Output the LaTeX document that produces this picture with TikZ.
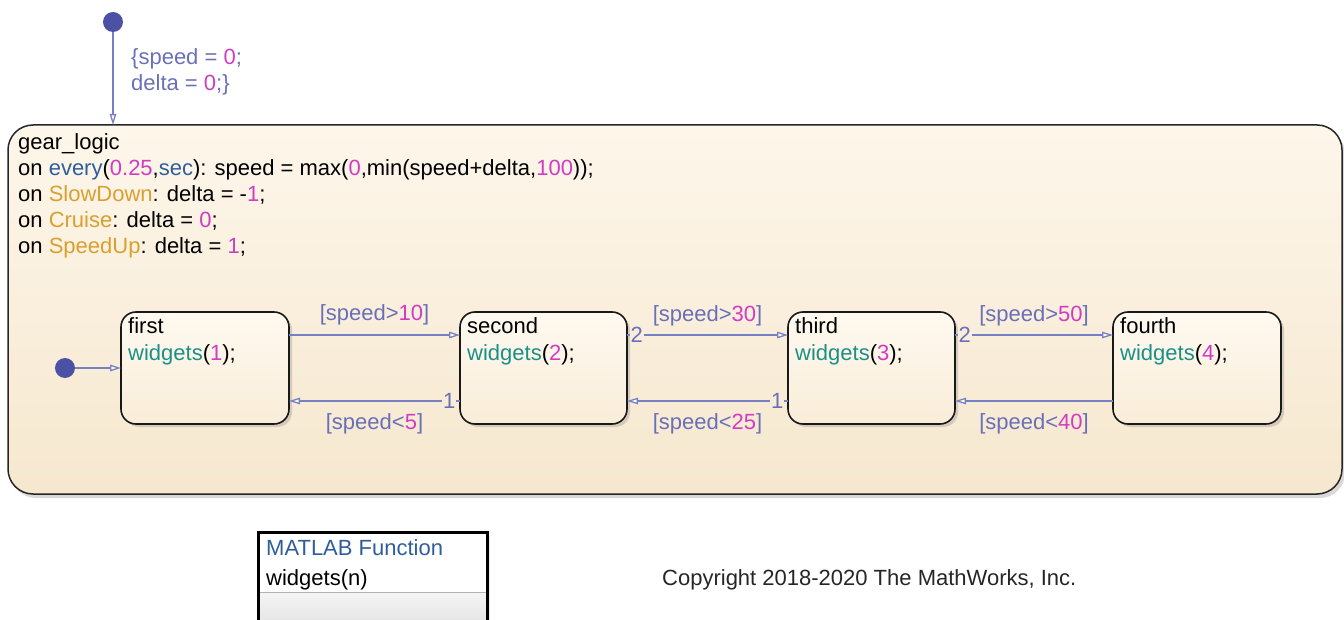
\documentclass[tikz,border=0pt]{standalone}
\usepackage{fontspec}
\setmainfont{Liberation Sans}
\usetikzlibrary{arrows.meta,shadows}

\definecolor{trnclr}{HTML}{7880C4}
\definecolor{labclr}{HTML}{6A70B8}
\definecolor{nmbclr}{HTML}{D23CC4}
\definecolor{kwdclr}{HTML}{2F5E9C}
\definecolor{evtclr}{HTML}{D9A030}
\definecolor{fcnclr}{HTML}{1C9088}
\definecolor{dotclr}{HTML}{4B52A6}
\definecolor{bgtop}{HTML}{FDF6EA}
\definecolor{bgbot}{HTML}{F6E8CF}
\definecolor{sttop}{HTML}{FEF9F0}
\definecolor{stbot}{HTML}{F9EDD8}

\newcommand{\nmb}[1]{\textcolor{nmbclr}{#1}}
\newcommand{\kwd}[1]{\textcolor{kwdclr}{#1}}
\newcommand{\evt}[1]{\textcolor{evtclr}{#1}}
\newcommand{\fcn}[1]{\textcolor{fcnclr}{#1}}

\tikzset{
  chart/.style={draw=black!85, line width=1.5pt, rounded corners=25pt, top color=bgtop, bottom color=bgbot,
    drop shadow={shadow xshift=3pt, shadow yshift=-4pt, opacity=0.3}, outer sep=0pt},
  gearbox/.style={draw=black!90, line width=1.6pt, rounded corners=15pt, top color=sttop, bottom color=stbot,
    minimum height=112pt, drop shadow={shadow xshift=3pt, shadow yshift=-3pt, opacity=0.3}, outer sep=0pt},
  txt/.style={inner sep=0pt, anchor=base west, font=\fontsize{22}{26}\selectfont},
  trans/.style={trnclr, line width=1.3pt, -{Triangle[length=11pt, width=6.5pt, fill=white]}},
  guard/.style={txt, anchor=base, text=labclr},
  order/.style={txt, inner sep=1pt, text=labclr},
  initdot/.style={circle, fill=dotclr, minimum size=20pt, inner sep=0pt, outer sep=0pt},
  fnbox/.style={fill=white, minimum width=229pt, minimum height=100pt, outer sep=0pt,
    drop shadow={shadow xshift=3pt, shadow yshift=-3pt, opacity=0.15}}
}

\begin{document}
\begin{tikzpicture}[x=1pt, y=-1pt]
  \path[use as bounding box, clip] (0,0) rectangle (1344,620);

  % outer state
  \node[chart, minimum width=1334pt, minimum height=369pt] (chart) at (675,309.5) {};
  \foreach \ln [count=\i from 0] in {
      {gear\_logic},
      {on \kwd{every}(\nmb{0.25},\kwd{sec}): speed = max(\nmb{0},min(speed+delta,\nmb{100}));},
      {on \evt{SlowDown}: delta = -\nmb{1};},
      {on \evt{Cruise}: delta = \nmb{0};},
      {on \evt{SpeedUp}: delta = \nmb{1};}} {
    \node[txt] (chart-\i) at (18,{150+26*\i}) {\ln};
  }

  % default transition into gear_logic
  \node[initdot] (root) at (113,22) {};
  \draw[trans] (root) -- (root |- chart.north);
  \node[txt, text=labclr] (root-a) at (131,65) {\{speed = \nmb{0};};
  \node[txt, text=labclr] (root-b) at (131,91) {delta = \nmb{0};\}};

  % gears
  \node[gearbox, minimum width=168pt] (first) at (205,368) {};
  \node[gearbox, minimum width=167pt] (second) at (543.5,368) {};
  \node[gearbox, minimum width=167pt] (third) at (871.5,368) {};
  \node[gearbox, minimum width=168pt] (fourth) at (1197,368) {};
  \foreach \st/\k in {first/1, second/2, third/3, fourth/4} {
    \node[txt] (\st-name) at ([shift={(7pt,-22pt)}]\st.north west) {\st};
    \node[txt] (\st-act) at ([shift={(7pt,-48pt)}]\st.north west) {\fcn{widgets}(\nmb{\k});};
  }

  \node[initdot] (init) at (65,368) {};
  \draw[trans] (init) -- (first.west);

  % shift up
  \draw[trans] ([yshift=33pt]first.east) -- node[guard, yshift=15pt] (up1) {[speed>\nmb{10}]}
    ([yshift=33pt]second.west);
  \draw[trans] ([yshift=33pt]second.east) -- node[guard, yshift=13pt] (up2) {[speed>\nmb{30}]}
    node[order, pos=0, anchor=west, xshift=2pt, fill=bgbot!57!bgtop] (up2-n) {2}
    ([yshift=33pt]third.west);
  \draw[trans] ([yshift=33pt]third.east) -- node[guard, yshift=13pt] (up3) {[speed>\nmb{50}]}
    node[order, pos=0, anchor=west, xshift=2pt, fill=bgbot!57!bgtop] (up3-n) {2}
    ([yshift=33pt]fourth.west);

  % shift down
  \draw[trans] ([yshift=-33pt]second.west) -- node[guard, yshift=-28pt] (dn1) {[speed<\nmb{5}]}
    node[order, pos=0, anchor=east, xshift=-3pt, fill=bgbot!75!bgtop] (dn1-n) {1}
    ([yshift=-33pt]first.east);
  \draw[trans] ([yshift=-33pt]third.west) -- node[guard, yshift=-28pt] (dn2) {[speed<\nmb{25}]}
    node[order, pos=0, anchor=east, xshift=-3pt, fill=bgbot!75!bgtop] (dn2-n) {1}
    ([yshift=-33pt]second.east);
  \draw[trans] ([yshift=-33pt]fourth.west) -- node[guard, yshift=-28pt] (dn3) {[speed<\nmb{40}]}
    ([yshift=-33pt]third.east);

  % MATLAB function block
  \node[fnbox] (mfun) at (372.5,582) {};
  \fill[top color=black!4, bottom color=black!12] ([yshift=-60pt]mfun.north west) rectangle (mfun.south east);
  \draw[black!30, line width=1pt] ([yshift=-60pt]mfun.north west) -- ([yshift=-60pt]mfun.north east);
  \draw[line width=3pt] (mfun.north west) rectangle (mfun.south east);
  \node[txt, text=kwdclr] (mfun-type) at (266,555) {MATLAB Function};
  \node[txt] (mfun-sig) at (266,585) {widgets(n)};

  \node[txt, text=black!85] (copy) at (662,585) {Copyright 2018-2020 The MathWorks, Inc.};
\end{tikzpicture}
\end{document}
